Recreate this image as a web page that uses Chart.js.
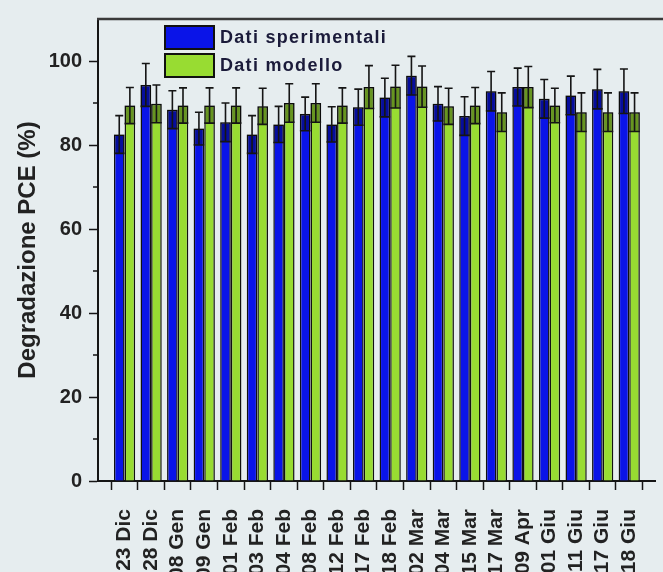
<!DOCTYPE html>
<html>
<head>
<meta charset="utf-8">
<script src="https://cdn.jsdelivr.net/npm/chart.js@4.4.0/dist/chart.umd.min.js"></script>
<style>
  html, body { margin: 0; padding: 0; overflow: hidden; background: #e6edef; }
  canvas { display: block; }
</style>
</head>
<body>
<canvas id="chart" width="700" height="640"></canvas>
<script>
// Measurement dates
const categories = ['23 Dic', '28 Dic', '08 Gen', '09 Gen', '01 Feb', '03 Feb', '04 Feb', '08 Feb', '12 Feb', '17 Feb',
                    '18 Feb', '02 Mar', '04 Mar', '15 Mar', '17 Mar', '09 Apr', '01 Giu', '11 Giu', '17 Giu', '18 Giu'];

// PCE degradation (%) – experimental data
const expValues = [82.5, 94.3, 88.4, 83.9, 85.4, 82.5, 84.9, 87.4, 84.9, 89.0,
                   91.3, 96.5, 89.8, 86.9, 92.8, 93.8, 91.0, 91.8, 93.3, 92.8];
const expErrors = [4.5, 5.1, 4.5, 3.9, 4.6, 4.5, 4.3, 4.0, 4.2, 4.3,
                   4.6, 4.6, 4.1, 4.6, 4.7, 4.5, 4.6, 4.6, 4.7, 5.3];

// PCE degradation (%) – model data
const modValues = [89.4, 89.8, 89.4, 89.4, 89.4, 89.2, 90.0, 90.0, 89.4, 93.8,
                   93.9, 93.9, 89.2, 89.4, 87.8, 93.8, 89.4, 87.8, 87.8, 87.8];
const modErrors = [4.3, 4.5, 4.2, 4.2, 4.2, 4.3, 4.6, 4.6, 4.2, 5.1,
                   5.1, 4.9, 4.3, 4.3, 4.6, 4.9, 4.1, 4.6, 4.6, 4.6];

const yMajorTicks = [0, 20, 40, 60, 80, 100];
const yMinorTicks = [10, 30, 50, 70, 90];

const FONT = "'Liberation Sans', Arial, sans-serif";
Chart.defaults.font.family = FONT;

// dates sit at positions 1..N on the x axis
const toPoints = vals => vals.map((v, i) => ({ x: i + 1, y: v }));

// error bars: darker band inside the bar down to (v - err), whisker up to (v + err)
const errorBars = {
  id: 'errorBars',
  afterDatasetsDraw(chart) {
    const ctx = chart.ctx;
    const ys = chart.scales.y;
    chart.data.datasets.forEach((ds, di) => {
      const meta = chart.getDatasetMeta(di);
      meta.data.forEach((bar, i) => {
        const v = ds.data[i].y, e = ds.errors[i];
        const x = bar.x, w = bar.width;
        const yTop = ys.getPixelForValue(v);
        const yLow = ys.getPixelForValue(v - e);
        const yHigh = ys.getPixelForValue(v + e);
        ctx.save();
        ctx.fillStyle = 'rgba(0,0,0,0.32)';
        ctx.fillRect(x - w / 2, yTop, w, yLow - yTop);
        ctx.strokeStyle = '#151515';
        ctx.lineWidth = 1.6;
        ctx.beginPath();
        ctx.moveTo(x - w / 2, yLow); ctx.lineTo(x + w / 2, yLow);
        ctx.moveTo(x, yLow); ctx.lineTo(x, yHigh);
        ctx.moveTo(x - 4, yHigh); ctx.lineTo(x + 4, yHigh);
        ctx.stroke();
        ctx.restore();
      });
    });
  }
};

// top frame line and minor ticks on the y axis
const frame = {
  id: 'frame',
  afterDraw(chart) {
    const { ctx, chartArea } = chart;
    const ys = chart.scales.y;
    ctx.save();
    ctx.strokeStyle = '#3a3a3a';
    ctx.lineWidth = 2.5;
    ctx.beginPath();
    ctx.moveTo(chartArea.left - 1, chartArea.top);
    ctx.lineTo(chart.width, chartArea.top);
    ctx.stroke();
    ctx.strokeStyle = '#151515';
    ctx.lineWidth = 1.5;
    ctx.beginPath();
    yMinorTicks.forEach(t => {
      const py = ys.getPixelForValue(t);
      ctx.moveTo(chartArea.left - 5, py);
      ctx.lineTo(chartArea.left, py);
    });
    ctx.stroke();
    ctx.restore();
  }
};

// legend boxes in the upper left of the plot
const boxLegend = {
  id: 'boxLegend',
  afterDraw(chart) {
    const { ctx, chartArea } = chart;
    ctx.save();
    chart.data.datasets.forEach((ds, i) => {
      const bx = chartArea.left + 67;
      const by = chartArea.top + 7 + i * 28;
      ctx.fillStyle = ds.backgroundColor;
      ctx.fillRect(bx, by, 49, 23);
      ctx.strokeStyle = '#111';
      ctx.lineWidth = 2;
      ctx.strokeRect(bx, by, 49, 23);
      ctx.fillStyle = '#1b1b3a';
      ctx.font = 'bold 18px ' + FONT;
      ctx.letterSpacing = '1.3px';
      ctx.textBaseline = 'middle';
      ctx.textAlign = 'left';
      ctx.fillText(ds.label, bx + 55, by + 12);
    });
    ctx.restore();
  }
};

new Chart(document.getElementById('chart'), {
  type: 'bar',
  data: {
    datasets: [
      {
        label: 'Dati sperimentali',
        data: toPoints(expValues),
        errors: expErrors,
        backgroundColor: '#0a14e8',
        borderColor: '#111',
        borderWidth: 1.5
      },
      {
        label: 'Dati modello',
        data: toPoints(modValues),
        errors: modErrors,
        backgroundColor: '#98dc32',
        borderColor: '#111',
        borderWidth: 1.5
      }
    ]
  },
  options: {
    responsive: false,
    animation: false,
    devicePixelRatio: 1,
    layout: { padding: { top: 15, right: 25, left: 0, bottom: 0 } },
    datasets: { bar: { categoryPercentage: 0.8, barPercentage: 1.0 } },
    plugins: { legend: { display: false }, tooltip: { enabled: false } },
    scales: {
      x: {
        type: 'linear',
        min: 0,
        max: categories.length + 1,
        offset: false,
        grid: { drawOnChartArea: false, drawTicks: true, tickLength: 9, tickColor: '#151515', tickWidth: 1.5 },
        border: { display: true, color: '#151515', width: 2 },
        ticks: {
          stepSize: 1,
          autoSkip: false,
          maxRotation: 90,
          minRotation: 90,
          padding: 19,
          color: '#222',
          font: { size: 21, weight: 'bold' },
          callback: v => categories[v - 1] || ''
        },
        afterFit: s => { s.height = 159; }
      },
      y: {
        min: 0,
        max: 110,
        grid: { drawOnChartArea: false, drawTicks: true, tickLength: 9, tickColor: '#151515', tickWidth: 1.5 },
        border: { display: true, color: '#151515', width: 2 },
        afterBuildTicks: s => { s.ticks = yMajorTicks.map(v => ({ value: v })); },
        ticks: {
          padding: 7,
          color: '#222',
          font: { size: 20, weight: 'bold' }
        },
        title: {
          display: true,
          text: 'Degradazione PCE (%)',
          color: '#222',
          font: { size: 24, weight: 'bold' },
          padding: { top: 14, bottom: 0 }
        },
        afterFit: s => { s.width = 98; }
      }
    }
  },
  plugins: [errorBars, frame, boxLegend]
});
</script>
</body>
</html>
